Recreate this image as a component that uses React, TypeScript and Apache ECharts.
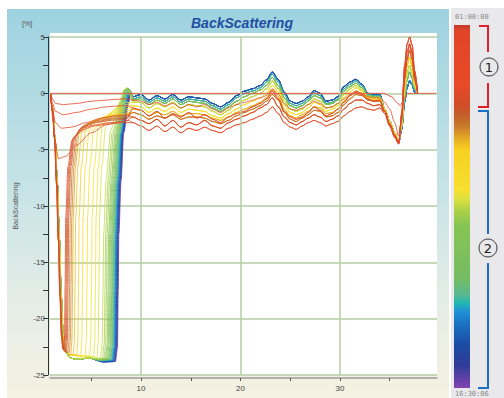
import React, { useEffect, useRef } from 'react';
import * as echarts from 'echarts';

// ---------- axes ----------
const X_TICKS = [5, 10, 15, 20, 25, 30, 35];
const X_LABELS = [10, 20, 30];
const X_GRID = [10, 20, 30];

// ---------- reference (first) curve ----------
const REF_CURVE = [[0.9, 0], [5, 0], [10, 0], [15, 0], [20, 0], [25, 0], [30, 0], [34.4, 0], [35.2, -0.3], [35.7, -0.8], [36.05, -1.1], [36.4, -0.6], [36.8, 0], [38, 0], [39.7, 0]];

// ---------- left descent (clarified zone wall) ----------
const DESCENT_RED = [[0.9, 0], [1.1, -1.6], [1.3, -4], [1.5, -8], [1.68, -13], [1.85, -18], [2.0, -21.5], [2.15, -22.7]];
const DESCENT_BROWN = [[0.9, 0], [1.1, -1.5], [1.32, -4], [1.53, -8], [1.72, -13], [1.9, -18], [2.06, -21.5], [2.25, -22.8]];
const DESCENT_YELLOW = [[0.9, 0], [1.1, -1.4], [1.34, -4], [1.56, -8], [1.76, -13], [1.94, -18], [2.12, -21.5], [2.35, -22.9], [2.8, -23.2]];
const DESCENT_GREEN = [[0.9, 0], [1.1, -1.3], [1.36, -4], [1.59, -8], [1.8, -13], [1.98, -18], [2.18, -21.5], [2.45, -23.0], [2.9, -23.5], [3.5, -23.6], [4.8, -23.5]];

// ---------- per-curve left part / front (time order, early -> late) ----------
const FRONTS = [
  [[0.9, 0], [1.1, -0.5], [1.4, -0.9], [2.2, -1.0], [3.5, -0.9], [5, -0.7], [6.5, -0.6], [8, -0.5], [8.7, -0.5]],
  [[0.9, 0], [1.1, -0.9], [1.4, -1.6], [2.2, -1.9], [3.5, -1.7], [5, -1.4], [6.5, -1.2], [8, -1.1], [8.7, -1.1]],
  [[0.9, 0], [1.1, -1.4], [1.4, -2.6], [2.0, -3.1], [3.0, -3.0], [4.5, -2.6], [6, -2.2], [7.5, -2.0], [8.6, -1.9]],
  [[0.9, 0], [1.1, -2.0], [1.35, -4.2], [1.7, -5.8], [2.4, -5.6], [3.5, -4.6], [5, -3.5], [6.5, -2.8], [8, -2.5], [8.7, -2.4]],
  [[2.25, -22.8], [2.3, -22], [2.37, -17], [2.43, -11], [2.65, -6.5], [3.05, -4.2], [3.9, -3.3], [5.3, -2.9], [6.8, -2.7], [8.3, -2.6]],
  [[2.33, -22.9], [2.4, -22], [2.47, -17], [2.53, -11], [2.75, -6.5], [3.15, -4.0], [4.0, -3.1], [5.4, -2.8], [6.9, -2.6], [8.4, -2.5]],
  [[2.42, -22.9], [2.5, -22], [2.57, -17], [2.63, -11], [2.85, -6.5], [3.25, -3.9], [4.1, -3.0], [5.5, -2.6], [7.0, -2.4], [8.5, -2.3]],
  [[2.5, -23.0], [2.6, -22], [2.67, -17], [2.73, -11], [2.95, -6.5], [3.35, -3.8], [4.2, -2.9], [5.6, -2.5], [7.1, -2.3], [8.5, -2.2]],
  [[2.63, -23.0], [2.75, -22], [2.82, -17], [2.88, -11], [3.1, -6.5], [3.5, -3.7], [4.4, -2.8], [5.8, -2.4], [7.3, -2.2], [8.6, -2.1]],
  [[2.78, -23.0], [2.9, -22], [2.97, -17], [3.03, -11], [3.25, -6.5], [3.65, -3.6], [4.6, -2.7], [6.0, -2.3], [7.5, -2.1], [8.6, -2.0]],
  [[2.93, -23.15], [3.05, -22], [3.12, -17], [3.18, -11], [3.4, -6.5], [3.8, -3.5], [4.8, -2.6], [6.2, -2.2], [7.6, -2.0], [8.7, -1.9]],
  [[3.18, -23.2], [3.3, -22], [3.37, -17], [3.43, -11], [3.65, -6.5], [4.05, -3.5], [5.0, -2.5], [6.4, -2.1], [7.8, -1.9], [8.7, -1.8]],
  [[3.53, -23.2], [3.65, -22], [3.72, -17], [3.78, -11], [4.0, -6.5], [4.4, -3.4], [5.35, -2.4], [6.7, -2.0], [8.0, -1.8], [8.8, -1.7]],
  [[3.93, -23.25], [4.05, -22], [4.12, -17], [4.18, -11], [4.4, -6.5], [4.8, -3.3], [5.7, -2.3], [7.0, -1.9], [8.2, -1.6], [8.8, -1.5]],
  [[3.6, -23.3], [4.38, -23.3], [4.5, -22], [4.57, -17], [4.63, -11], [4.85, -6.5], [5.25, -3.2], [6.1, -2.2], [7.3, -1.7], [8.3, -1.4], [8.9, -1.3]],
  [[3.8, -23.3], [4.83, -23.3], [4.95, -22], [5.02, -17], [5.08, -11], [5.3, -6.5], [5.7, -3.1], [6.5, -2.0], [7.5, -1.5], [8.4, -1.2], [8.9, -1.1]],
  [[4.0, -23.35], [5.23, -23.35], [5.35, -22], [5.42, -17], [5.48, -11], [5.7, -6.5], [6.1, -3.0], [6.8, -1.8], [7.7, -1.3], [8.5, -1.0], [8.9, -0.9]],
  [[4.2, -23.4], [5.58, -23.4], [5.7, -22], [5.77, -17], [5.83, -11], [6.05, -6.5], [6.45, -3.0], [7.1, -1.6], [7.9, -1.0], [8.5, -0.8], [8.9, -0.8]],
  [[5.9, -23.5], [6.1, -22.3], [6.18, -17.5], [6.24, -12.5], [6.5, -7.7], [6.95, -3.3], [7.6, -1.2], [8.1, -0.3], [8.45, 0.15], [8.85, -0.2]],
  [[6.1, -23.55], [6.3, -22.3], [6.38, -17.5], [6.44, -12.5], [6.7, -7.7], [7.1, -3.5], [7.9, -0.8], [8.3, 0.3], [8.55, 0.45], [8.9, 0.0]],
  [[5.6, -23.6], [6.25, -23.55], [6.45, -22.3], [6.53, -17.5], [6.59, -12.5], [6.85, -7.7], [7.25, -3.5], [7.95, -0.8], [8.32, 0.3], [8.57, 0.45], [8.92, 0.0]],
  [[5.7, -23.6], [6.4, -23.55], [6.6, -22.3], [6.68, -17.5], [6.74, -12.5], [7.0, -7.7], [7.4, -3.5], [8.0, -0.8], [8.35, 0.3], [8.6, 0.45], [8.95, 0.0]],
  [[5.8, -23.6], [6.5, -23.55], [6.7, -22.3], [6.78, -17.5], [6.84, -12.5], [7.1, -7.7], [7.5, -3.5], [8.05, -0.8], [8.38, 0.3], [8.62, 0.45], [8.97, 0.0]],
  [[5.8, -23.65], [6.6, -23.55], [6.8, -22.3], [6.88, -17.5], [6.94, -12.5], [7.2, -7.7], [7.58, -3.5], [8.1, -0.8], [8.42, 0.3], [8.65, 0.45], [9.0, 0.0]],
  [[5.9, -23.65], [6.7, -23.6], [6.9, -22.4], [6.98, -17.5], [7.04, -12.5], [7.3, -7.7], [7.66, -3.5], [8.15, -0.8], [8.45, 0.3], [8.68, 0.45], [9.02, 0.0]],
  [[5.9, -23.65], [6.78, -23.6], [6.98, -22.4], [7.06, -17.5], [7.12, -12.5], [7.37, -7.7], [7.72, -3.5], [8.2, -0.8], [8.48, 0.3], [8.7, 0.45], [9.04, 0.0]],
  [[5.9, -23.7], [6.85, -23.6], [7.05, -22.4], [7.13, -17.5], [7.19, -12.5], [7.44, -7.7], [7.78, -3.5], [8.25, -0.8], [8.52, 0.3], [8.73, 0.45], [9.06, 0.0]],
  [[5.9, -23.7], [6.92, -23.6], [7.12, -22.4], [7.2, -17.5], [7.26, -12.5], [7.5, -7.7], [7.84, -3.5], [8.3, -0.8], [8.56, 0.3], [8.76, 0.4], [9.08, 0.0]],
  [[6.0, -23.7], [6.98, -23.65], [7.18, -22.4], [7.26, -17.5], [7.32, -12.5], [7.56, -7.7], [7.9, -3.5], [8.35, -0.8], [8.6, 0.25], [8.8, 0.35], [9.1, -0.05]],
  [[6.0, -23.7], [7.03, -23.65], [7.23, -22.4], [7.31, -17.5], [7.37, -12.5], [7.6, -7.7], [7.94, -3.5], [8.4, -0.8], [8.64, 0.2], [8.84, 0.3], [9.12, -0.1]],
  [[6.0, -23.75], [7.08, -23.7], [7.28, -22.5], [7.36, -17.5], [7.42, -12.5], [7.65, -7.7], [7.98, -3.5], [8.45, -0.8], [8.68, 0.15], [8.88, 0.25], [9.14, -0.15]],
  [[6.0, -23.75], [7.13, -23.7], [7.33, -22.5], [7.41, -17.5], [7.47, -12.5], [7.7, -7.7], [8.02, -3.5], [8.5, -0.8], [8.72, 0.1], [8.92, 0.2], [9.15, -0.2]],
  [[6.1, -23.8], [7.18, -23.7], [7.38, -22.5], [7.46, -17.5], [7.52, -12.5], [7.75, -7.7], [8.06, -3.5], [8.55, -0.8], [8.76, 0.05], [8.95, 0.15], [9.15, -0.25]],
  [[6.1, -23.8], [7.23, -23.75], [7.43, -22.5], [7.51, -17.5], [7.57, -12.5], [7.8, -7.7], [8.1, -3.5], [8.6, -0.8], [8.8, 0.0], [8.98, 0.1], [9.15, -0.25]],
  [[6.1, -23.8], [7.28, -23.75], [7.48, -22.5], [7.56, -17.5], [7.62, -12.5], [7.85, -7.7], [8.14, -3.5], [8.64, -0.8], [8.84, -0.05], [9.0, 0.05], [9.15, -0.25]],
  [[6.2, -23.85], [7.33, -23.8], [7.53, -22.6], [7.61, -17.5], [7.67, -12.5], [7.9, -7.7], [8.18, -3.5], [8.68, -0.8], [8.88, -0.1], [9.02, 0.0], [9.15, -0.25]],
  [[6.2, -23.85], [7.38, -23.8], [7.58, -22.6], [7.66, -17.5], [7.72, -12.5], [7.95, -7.7], [8.22, -3.5], [8.72, -0.8], [8.92, -0.15], [9.04, -0.05], [9.15, -0.25]],
  [[6.2, -23.85], [7.43, -23.8], [7.63, -22.6], [7.71, -17.5], [7.77, -12.5], [8.0, -7.7], [8.26, -3.5], [8.76, -0.8], [8.95, -0.2], [9.06, -0.1], [9.15, -0.25]],
];

const CURVE_DESCENT = [
  '', '', '', '', 'red', 'red', 'red', 'brown', 'brown', 'brown',
  'yellow', 'yellow', 'yellow', 'yellow', 'yellow', 'yellow', 'yellow', 'yellow',
  'green', 'green', 'green', 'green', 'green', 'green', 'green', 'green', 'green', 'green',
  'green', 'green', 'green', 'green', 'green', 'green', 'green', 'green', 'green', 'green',
];

const CURVE_COLORS = [
  '#e5452b', '#e6482a', '#e54a29', '#e34c28', '#e04d27', '#d94f27', '#cf5427', '#c65e29', '#c8722a', '#d48a28',
  '#e0a425', '#f0bf21', '#f7cd22', '#fad824', '#fbdf2b', '#f5e031', '#ebe238', '#dde23f', '#c2d946', '#aad148',
  '#9acb4e', '#8ec652', '#86c256', '#80c05a', '#7abd5e', '#74bb64', '#6cb96c', '#60b878', '#52b788', '#22b3ae',
  '#1c92d2', '#1a7ccb', '#1a66bb', '#1a54ab', '#1a46a0', '#1e3c98', '#4a3c9c', '#7440a8',
];

// ---------- middle section (9.2 - 34 mm) ----------
const MID_X = [9.2, 10.0, 10.8, 11.6, 12.4, 13.2, 14.0, 14.8, 15.6, 16.4, 17.2, 18.0, 18.8, 19.6, 20.4, 21.2, 22.0, 22.6, 23.2, 23.8, 24.4, 25.0, 25.6, 26.2, 26.8, 27.4, 28.0, 28.6, 29.2, 29.8, 30.4, 31.0, 31.6, 32.2, 32.8, 33.4, 34.0];
const MID_BLUE = [-0.3, -0.1, -0.6, -0.2, -0.5, -0.1, -0.6, -0.3, -0.4, -0.5, -0.9, -1.2, -0.8, -0.2, 0.2, 0.4, 0.7, 1.2, 1.9, 1.2, 0.1, -0.7, -0.9, -0.7, -0.3, 0.25, 0.0, -0.7, -0.6, -0.3, 0.6, 1.0, 1.25, 0.8, 0.0, -0.1, -0.1];
const MID_BLUE2 = [-0.5, -0.3, -0.8, -0.4, -0.7, -0.3, -0.8, -0.5, -0.6, -0.7, -1.1, -1.4, -1.0, -0.4, 0.0, 0.2, 0.5, 1.0, 1.7, 1.0, -0.1, -0.9, -1.1, -0.9, -0.5, 0.05, -0.2, -0.9, -0.8, -0.5, 0.4, 0.8, 1.1, 0.7, -0.1, -0.2, -0.2];
const MID_GREEN = [-0.6, -0.5, -1.0, -0.6, -0.9, -0.5, -1.0, -0.7, -0.8, -0.9, -1.3, -1.6, -1.2, -0.7, -0.3, 0.0, 0.3, 0.7, 1.4, 0.7, -0.4, -1.1, -1.3, -1.1, -0.7, -0.2, -0.4, -1.0, -0.9, -0.6, 0.2, 0.6, 0.9, 0.5, -0.2, -0.3, -0.3];
const MID_GREEN2 = [-0.8, -0.8, -1.3, -0.9, -1.2, -0.8, -1.3, -1.0, -1.1, -1.2, -1.6, -1.9, -1.5, -1.0, -0.6, -0.3, 0.0, 0.4, 1.1, 0.4, -0.7, -1.4, -1.6, -1.4, -1.0, -0.5, -0.7, -1.3, -1.2, -0.9, -0.1, 0.4, 0.7, 0.3, -0.3, -0.4, -0.4];
const MID_YELLOW = [-1.1, -1.2, -1.7, -1.3, -1.6, -1.2, -1.7, -1.4, -1.5, -1.6, -2.0, -2.2, -1.8, -1.4, -1.0, -0.7, -0.4, 0.0, 0.7, 0.1, -1.0, -1.7, -1.9, -1.7, -1.3, -0.8, -1.0, -1.6, -1.4, -1.1, -0.4, 0.1, 0.5, 0.2, -0.4, -0.5, -0.5];
const MID_YELLOW2 = [-1.4, -1.5, -2.0, -1.7, -1.9, -1.6, -2.0, -1.8, -1.8, -1.9, -2.2, -2.4, -2.1, -1.7, -1.4, -1.1, -0.8, -0.4, 0.3, -0.3, -1.4, -2.0, -2.2, -1.9, -1.6, -1.2, -1.3, -1.8, -1.7, -1.4, -0.7, -0.2, 0.2, 0.0, -0.5, -0.6, -0.6];
const MID_ORANGE = [-1.7, -1.9, -2.3, -2.0, -2.2, -1.9, -2.3, -2.1, -2.1, -2.2, -2.5, -2.7, -2.4, -2.0, -1.7, -1.4, -1.1, -0.7, -0.1, -0.6, -1.7, -2.3, -2.5, -2.2, -1.9, -1.5, -1.6, -2.1, -2.0, -1.7, -1.0, -0.5, -0.1, -0.2, -0.6, -0.7, -0.7];
const MID_RED1 = [-2.1, -2.4, -2.7, -2.3, -2.9, -2.4, -3.0, -2.6, -2.8, -2.4, -2.9, -3.1, -2.6, -2.3, -2.0, -1.7, -1.3, -1.0, -0.4, -1.2, -2.1, -2.6, -2.8, -2.5, -2.2, -1.9, -2.1, -2.5, -2.3, -2.0, -1.4, -0.9, -0.6, -0.6, -0.9, -1.1, -1.0];
const MID_RED2 = [-1.3, -1.5, -2.0, -1.6, -2.2, -1.8, -2.1, -1.7, -2.2, -1.9, -2.3, -2.6, -2.1, -1.8, -1.6, -1.2, -0.9, -0.5, 0.2, -0.5, -1.6, -2.1, -2.3, -2.1, -1.7, -1.2, -1.5, -2.0, -1.8, -1.4, -0.8, -0.2, 0.1, -0.1, -0.5, -0.7, -0.6];
const MID_RED3 = [-0.6, -0.7, -1.0, -0.8, -1.1, -0.9, -1.3, -1.0, -1.2, -1.0, -1.4, -1.7, -1.3, -1.0, -0.8, -0.6, -0.4, -0.2, 0.4, -0.1, -0.9, -1.4, -1.5, -1.3, -1.0, -0.7, -0.9, -1.3, -1.2, -0.9, -0.5, -0.1, 0.2, 0.0, -0.3, -0.4, -0.4];
const MID_RED4 = [-2.6, -2.9, -3.3, -2.9, -3.4, -3.0, -3.5, -3.1, -3.3, -3.0, -3.3, -3.5, -3.1, -2.8, -2.6, -2.3, -2.0, -1.7, -1.2, -1.8, -2.6, -3.0, -3.2, -2.9, -2.6, -2.4, -2.6, -2.9, -2.7, -2.5, -2.0, -1.6, -1.3, -1.2, -1.4, -1.5, -1.3];

const CURVE_MID = [
  'RED3', 'RED2', 'RED1', 'RED4', 'RED4', 'RED1', 'RED2', 'ORANGE', 'RED1', 'ORANGE',
  'YELLOW2', 'ORANGE', 'YELLOW2', 'YELLOW2', 'YELLOW', 'YELLOW', 'YELLOW', 'GREEN2', 'GREEN2', 'GREEN2',
  'GREEN2', 'GREEN2', 'GREEN', 'GREEN', 'GREEN', 'GREEN', 'GREEN', 'GREEN', 'BLUE2', 'BLUE2',
  'BLUE2', 'BLUE2', 'BLUE', 'BLUE', 'BLUE', 'BLUE', 'BLUE', 'BLUE',
];

// ---------- right section: dip and cream peak ----------
const RIGHT_X = [34.5, 35.0, 35.5, 35.9, 36.2, 36.5, 36.75, 37.0, 37.25, 37.5, 37.8];
const RIGHT_RED_B = [-1.8, -2.9, -3.9, -4.5, -1.8, 2.5, 4.4, 5.0, 4.3, 2.0, 0.1];
const RIGHT_RED_M = [-1.6, -2.8, -3.8, -4.4, -2.0, 2.0, 3.7, 4.4, 3.6, 1.6, 0.1];
const RIGHT_RED_S = [-0.8, -1.4, -2.6, -3.8, -2.2, 1.4, 3.3, 4.2, 3.4, 1.4, 0.1];
const RIGHT_ORANGE = [-1.6, -2.7, -3.7, -4.4, -2.3, 1.3, 3.0, 3.8, 3.0, 1.2, 0.05];
const RIGHT_YELLOW = [-1.5, -2.6, -3.6, -4.3, -2.6, 0.8, 2.5, 3.2, 2.4, 0.9, 0.0];
const RIGHT_GREEN = [-1.4, -2.5, -3.5, -4.3, -2.9, 0.1, 1.8, 2.5, 1.8, 0.6, 0.0];
const RIGHT_GREEN2 = [-1.4, -2.5, -3.5, -4.35, -3.0, -0.3, 1.2, 1.9, 1.3, 0.4, 0.0];
const RIGHT_BLUE = [-1.4, -2.5, -3.5, -4.4, -3.2, -0.8, 0.5, 1.15, 0.75, 0.1, 0.0];

const CURVE_RIGHT = [
  'RED_S', 'RED_M', 'RED_B', 'RED_B', 'RED_M', 'RED_B', 'RED_M', 'ORANGE', 'ORANGE', 'ORANGE',
  'ORANGE', 'YELLOW', 'YELLOW', 'YELLOW', 'YELLOW', 'YELLOW', 'YELLOW', 'GREEN', 'GREEN', 'GREEN',
  'GREEN', 'GREEN', 'GREEN', 'GREEN', 'GREEN2', 'GREEN2', 'GREEN2', 'GREEN2', 'GREEN2', 'GREEN2',
  'BLUE', 'BLUE', 'BLUE', 'BLUE', 'BLUE', 'BLUE', 'BLUE', 'BLUE',
];

// ---------- colour bar ----------
const COLORBAR_STOPS = [
  [0, '#c0392a'], [0.014, '#e04428'], [0.16, '#e84a28'], [0.22, '#d24c28'], [0.25, '#c2602a'],
  [0.28, '#c87c2a'], [0.317, '#e8b024'], [0.344, '#f8d020'], [0.455, '#f6e030'], [0.482, '#d8e040'],
  [0.515, '#a8d048'], [0.55, '#88c454'], [0.7, '#74bc64'], [0.744, '#58b890'], [0.766, '#20b8b0'],
  [0.79, '#2090d8'], [0.826, '#1a70c0'], [0.88, '#1a4ca4'], [0.937, '#2e3c98'], [1, '#8444b0'],
];
const COLORBAR_LABELS = ['01:00:00', '16:30:06'];

const DESCENTS: any = { red: DESCENT_RED, brown: DESCENT_BROWN, yellow: DESCENT_YELLOW, green: DESCENT_GREEN };
const MIDS: any = { BLUE: MID_BLUE, BLUE2: MID_BLUE2, GREEN: MID_GREEN, GREEN2: MID_GREEN2, YELLOW: MID_YELLOW, YELLOW2: MID_YELLOW2, ORANGE: MID_ORANGE, RED1: MID_RED1, RED2: MID_RED2, RED3: MID_RED3, RED4: MID_RED4 };
const RIGHTS: any = { RED_B: RIGHT_RED_B, RED_M: RIGHT_RED_M, RED_S: RIGHT_RED_S, ORANGE: RIGHT_ORANGE, YELLOW: RIGHT_YELLOW, GREEN: RIGHT_GREEN, GREEN2: RIGHT_GREEN2, BLUE: RIGHT_BLUE };

function curveData(i: number) {
  const d = CURVE_DESCENT[i] ? DESCENTS[CURVE_DESCENT[i]] : [];
  const mid = MIDS[CURVE_MID[i]];
  const right = RIGHTS[CURVE_RIGHT[i]];
  return [
    ...d,
    ...FRONTS[i],
    ...MID_X.map((x, k) => [x, mid[k]]),
    ...RIGHT_X.map((x, k) => [x, right[k]]),
  ];
}

function buildOption() {
  const curveSeries: any[] = [];
  for (let i = FRONTS.length - 1; i >= 0; i--) {
    curveSeries.push({
      type: 'line',
      data: curveData(i),
      showSymbol: false,
      smooth: 0.3,
      smoothMonotone: 'x',
      clip: false,
      silent: true,
      z: 3,
      lineStyle: { color: CURVE_COLORS[i], width: 0.8 },
      emphasis: { disabled: true },
    });
  }
  curveSeries.push({
    type: 'line',
    data: REF_CURVE,
    showSymbol: false,
    smooth: 0.3,
    smoothMonotone: 'x',
    silent: true,
    z: 4,
    lineStyle: { color: '#e85a48', width: 1 },
    emphasis: { disabled: true },
  });

  const gridSeries = {
    type: 'line',
    data: [],
    silent: true,
    z: 1,
    markLine: {
      silent: true,
      symbol: ['none', 'none'],
      label: { show: false },
      lineStyle: { color: '#b5cda5', width: 1.5, type: 'solid' },
      data: X_GRID.map((v) => ({ xAxis: v })),
      animation: false,
    },
  };

  return {
    animation: false,
    textStyle: { fontFamily: 'Liberation Sans' },
    title: {
      text: 'BackScattering',
      left: 186,
      top: 11,
      textStyle: { fontSize: 14, fontWeight: 'bold', fontStyle: 'italic', color: '#1f4fa0', fontFamily: 'Liberation Sans' },
    },
    grid: { left: 50, right: 67, top: 37, bottom: 23, containLabel: false, outerBoundsMode: 'none' },
    xAxis: {
      type: 'value',
      min: 0.85,
      max: 39.75,
      offset: 3,
      axisLine: { show: true, onZero: false, lineStyle: { color: '#9a9a9a', width: 1.5 } },
      axisTick: { show: true, length: 3, customValues: X_TICKS, lineStyle: { color: '#555' } },
      axisLabel: { customValues: X_LABELS, fontSize: 8, color: '#444', margin: 6 },
      splitLine: { show: false },
      name: 'Position [mm]',
      nameLocation: 'middle',
      nameGap: 15,
      nameTextStyle: { fontSize: 8, color: '#444' },
    },
    yAxis: {
      type: 'value',
      min: -25,
      max: 5,
      interval: 5,
      offset: 2,
      axisLine: { show: true, onZero: false, lineStyle: { color: '#333', width: 1 } },
      axisTick: { show: true, length: 5, lineStyle: { color: '#333' } },
      minorTick: { show: true, splitNumber: 2, length: 5, lineStyle: { color: '#333' } },
      axisLabel: { fontSize: 8, color: '#444', margin: 3 },
      splitLine: { show: true, lineStyle: { color: '#b5cda5', width: 1.5 } },
      name: 'BackScattering',
      nameLocation: 'middle',
      nameGap: 29,
      nameRotate: 90,
      nameTextStyle: { fontSize: 7, color: '#555' },
    },
    graphic: [
      {
        type: 'rect', z: -20, silent: true,
        shape: { x: 7, y: 9, width: 442, height: 389 },
        style: {
          fill: new echarts.graphic.LinearGradient(0, 0, 0, 1, [
            { offset: 0, color: '#9ed2e0' },
            { offset: 0.45, color: '#c6e3e6' },
            { offset: 0.75, color: '#e4ede6' },
            { offset: 1, color: '#f6f1e2' },
          ]),
        },
      },
      { type: 'rect', z: -20, silent: true, shape: { x: 451, y: 8, width: 53, height: 390 }, style: { fill: '#e9e9ec' } },
      { type: 'rect', z: -19, silent: true, shape: { x: 50, y: 33, width: 387, height: 342 }, style: { fill: '#ffffff' } },
      {
        type: 'rect', silent: true,
        shape: { x: 454, y: 25, width: 16, height: 363 },
        style: {
          fill: new echarts.graphic.LinearGradient(0, 0, 0, 1, COLORBAR_STOPS.map((s) => ({ offset: s[0] as number, color: s[1] as string }))),
        },
      },
      { type: 'text', silent: true, x: 455, y: 17, style: { text: COLORBAR_LABELS[0], fill: '#8a8a8a', fontSize: 7, fontFamily: 'DejaVu Sans Mono', textVerticalAlign: 'middle' } },
      { type: 'text', silent: true, x: 455, y: 394, style: { text: COLORBAR_LABELS[1], fill: '#8a8a8a', fontSize: 7, fontFamily: 'DejaVu Sans Mono', textVerticalAlign: 'middle' } },
      { type: 'text', silent: true, x: 22, y: 23, style: { text: '[%]', fill: '#555', fontSize: 7, textVerticalAlign: 'middle' } },
      // red bracket (1)
      { type: 'polyline', silent: true, shape: { points: [[479, 26], [488, 26], [488, 52]] }, style: { stroke: '#e3202b', lineWidth: 2, fill: 'none' } },
      { type: 'polyline', silent: true, shape: { points: [[488, 83], [488, 107], [478, 107]] }, style: { stroke: '#e3202b', lineWidth: 2, fill: 'none' } },
      { type: 'circle', silent: true, shape: { cx: 489, cy: 67, r: 9 }, style: { stroke: '#333', lineWidth: 1, fill: 'none' } },
      { type: 'text', silent: true, x: 489, y: 67.5, style: { text: '1', fill: '#222', fontSize: 13, fontFamily: 'DejaVu Sans', textAlign: 'center', textVerticalAlign: 'middle' } },
      // blue bracket (2)
      { type: 'polyline', silent: true, shape: { points: [[478, 111], [488, 111], [488, 234]] }, style: { stroke: '#1a6fc4', lineWidth: 2, fill: 'none' } },
      { type: 'polyline', silent: true, shape: { points: [[488, 263], [488, 388], [478, 388]] }, style: { stroke: '#1a6fc4', lineWidth: 2, fill: 'none' } },
      { type: 'circle', silent: true, shape: { cx: 488, cy: 248, r: 9 }, style: { stroke: '#333', lineWidth: 1, fill: 'none' } },
      { type: 'text', silent: true, x: 488, y: 248.5, style: { text: '2', fill: '#222', fontSize: 13, fontFamily: 'DejaVu Sans', textAlign: 'center', textVerticalAlign: 'middle' } },
    ],
    series: [gridSeries, ...curveSeries],
  };
}

export default function App() {
  const ref = useRef<HTMLDivElement>(null);
  useEffect(() => {
    if (!ref.current) return;
    const chart = echarts.init(ref.current, null, { renderer: 'svg' });
    chart.setOption(buildOption() as any);
    return () => chart.dispose();
  }, []);
  return <div ref={ref} style={{ position: 'absolute', left: 0, top: 0, width: 504, height: 398 }} />;
}
